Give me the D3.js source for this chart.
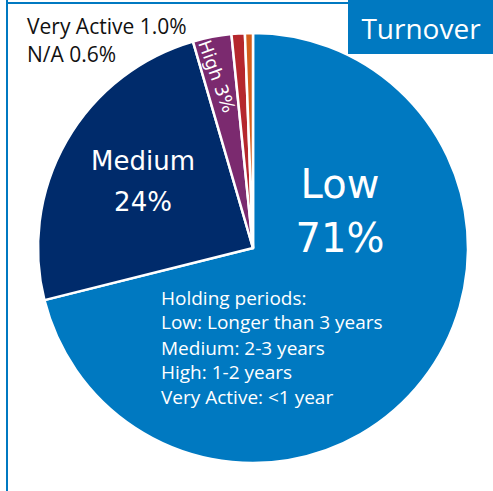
<!DOCTYPE html>
<html>
<head>
<meta charset="utf-8">
<script src="https://cdn.jsdelivr.net/npm/d3@7"></script>
<style>
  body { margin: 0; background: #fff; }
  svg { display: block; }
</style>
</head>
<body>
<svg id="chart" width="493" height="491"></svg>
<script>
// slice data, clockwise from 12 o'clock
var categories = ["Low", "Medium", "High", "Very Active", "N/A"];
var shares = [71.1, 24.4, 2.9, 1.0, 0.6];
var colors = ["#0079c1", "#002b6b", "#7b2a6f", "#b5272d", "#d45e1c"];
var notes = ["Holding periods:", "Low: Longer than 3 years", "Medium: 2-3 years", "High: 1-2 years", "Very Active: <1 year"];

var width = 493, height = 491;
var cx = 253, cy = 248, r = 215;
var svg = d3.select("#chart");
var font = "'Open Sans', sans-serif";
var labelFont = "'DejaVu Sans', sans-serif";

// frame lines
svg.append("rect").attr("x", 6).attr("y", 0).attr("width", 2).attr("height", height).attr("fill", "#0079c1");
svg.append("rect").attr("x", 6).attr("y", 2).attr("width", 345).attr("height", 2).attr("fill", "#0079c1");

var data = categories.map((c, i) => ({ name: c, value: shares[i], color: colors[i] }));

var pie = d3.pie().value(d => d.value).sort(null);
var arc = d3.arc().innerRadius(0).outerRadius(r);
var arcs = pie(data);

var g = svg.append("g").attr("transform", "translate(" + cx + "," + cy + ")");
g.selectAll("path.slice")
    .data(arcs).enter()
    .append("path")
    .attr("class", "slice")
    .attr("d", arc)
    .attr("fill", d => d.data.color)
    .attr("stroke", "#fff")
    .attr("stroke-width", 2.5)
    .attr("stroke-linejoin", "round");

// Low label
g.append("text").attr("x", 87).attr("y", -50).attr("text-anchor", "middle")
    .attr("fill", "#fff").style("font-family", labelFont).style("font-size", "40px")
    .text("Low");
g.append("text").attr("x", 87).attr("y", 4).attr("text-anchor", "middle")
    .attr("fill", "#fff").style("font-family", labelFont).style("font-size", "40px")
    .text(Math.round(shares[0]) + "%");

// Medium label
g.append("text").attr("x", -110).attr("y", -78).attr("text-anchor", "middle")
    .attr("fill", "#fff").style("font-family", labelFont).style("font-size", "26px")
    .text("Medium");
g.append("text").attr("x", -110).attr("y", -37).attr("text-anchor", "middle")
    .attr("fill", "#fff").style("font-family", labelFont).style("font-size", "26px")
    .text(Math.round(shares[1]) + "%");

// High label (rotated inside the slice)
g.append("text")
    .attr("transform", "translate(-55,-205) rotate(70)")
    .attr("fill", "#fff").style("font-family", labelFont).style("font-size", "18px")
    .text("High " + Math.round(shares[2]) + "%");

// small slices labelled at top left
svg.append("text").attr("x", 27).attr("y", 34)
    .style("font-family", font).style("font-size", "21px").attr("fill", "#111")
    .text("Very Active " + shares[3].toFixed(1) + "%");
svg.append("text").attr("x", 27).attr("y", 62)
    .style("font-family", font).style("font-size", "21px").attr("fill", "#111")
    .text("N/A " + shares[4].toFixed(1) + "%");

// holding periods note
var noteY = [305, 329, 355, 379, 404];
svg.selectAll("text.note")
    .data(notes).enter()
    .append("text")
    .attr("class", "note")
    .attr("x", 161)
    .attr("y", (d, i) => noteY[i])
    .attr("fill", "#fff")
    .style("font-family", font)
    .style("font-size", "19px")
    .text(d => d);

// title box
svg.append("rect").attr("x", 348).attr("y", 0).attr("width", 145).attr("height", 54).attr("fill", "#0079c1");
svg.append("text").attr("x", 421).attr("y", 39).attr("text-anchor", "middle")
    .attr("fill", "#fff").style("font-family", font).style("font-size", "28px")
    .text("Turnover");
</script>
</body>
</html>
